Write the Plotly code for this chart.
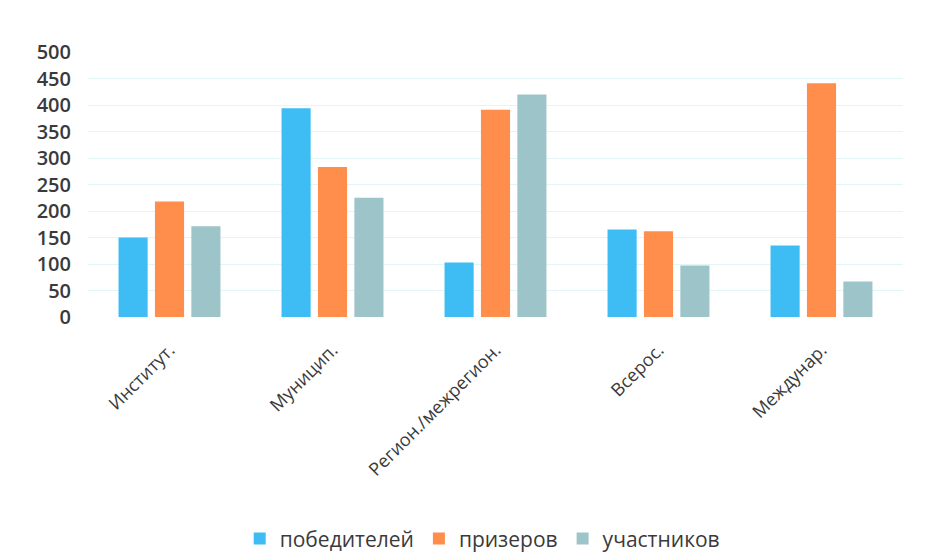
import plotly.graph_objects as go

categories = ["Институт.", "Муницип.", "Регион./межрегион.", "Всерос.", "Междунар."]
winners = [150, 394, 103, 165, 135]
prizewinners = [218, 283, 391, 162, 441]
participants = [171, 225, 420, 97, 67]
series_names = ["победителей", "призеров", "участников"]
y_ticks = [0, 50, 100, 150, 200, 250, 300, 350, 400, 450, 500]

colors = ["#3DBDF3", "#FF8E4C", "#9DC4C8"]

fig = go.Figure()
for name, vals, col in zip(series_names, [winners, prizewinners, participants], colors):
    fig.add_trace(go.Bar(x=categories, y=vals, name=name, marker=dict(color=col, line=dict(width=0))))

fig.update_layout(
    width=939, height=560,
    paper_bgcolor="white", plot_bgcolor="white",
    barmode="group", bargap=0.33, bargroupgap=0.2,
    margin=dict(l=80, r=44, t=44, b=251, autoexpand=False),
    font=dict(family="Open Sans", color="#3a3a3a"),
    legend=dict(orientation="h", xref="container", yref="container",
                x=0.505, xanchor="center", y=0.052, yanchor="middle",
                font=dict(size=21, color="#3a3a3a"), traceorder="normal",
                itemwidth=30),
    showlegend=True,
)
fig.update_yaxes(range=[0, 500], tickvals=y_ticks, showgrid=True, gridcolor="#E4F5F7",
                 gridwidth=1, zeroline=False, showline=False, ticklabelstandoff=16,
                 tickfont=dict(size=20, color="#3a3a3a", family="Open Sans", weight=600),
                 ticks="", ticklen=0)
fig.update_xaxes(tickangle=-45, showline=False, ticks="", ticklabelstandoff=18,
                 tickfont=dict(size=18, color="#3a3a3a", family="Open Sans", weight=500))

fig.write_html("out.html")
